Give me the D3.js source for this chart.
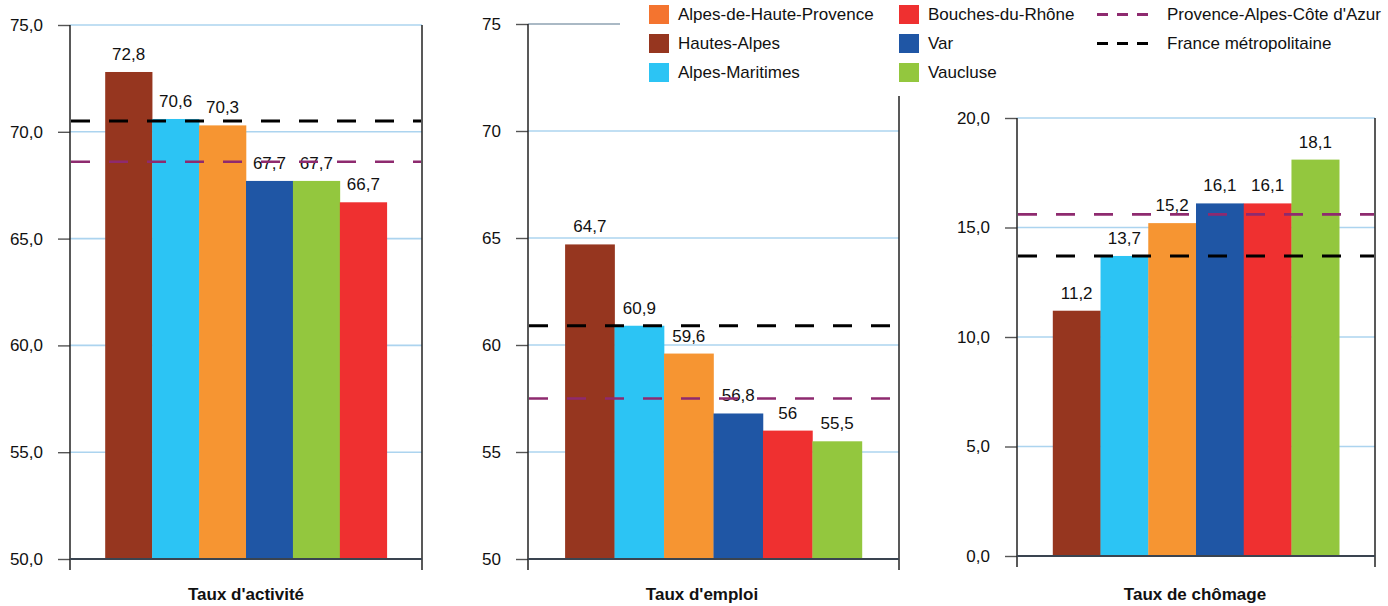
<!DOCTYPE html>
<html>
<head>
<meta charset="utf-8">
<script src="https://cdn.jsdelivr.net/npm/d3@7"></script>
<style>
  body { margin: 0; background: #fff; }
  svg { display: block; font-family: "Liberation Sans", Arial, sans-serif; }
</style>
</head>
<body>
<svg width="1388" height="606"></svg>
<script>
const departements = ['Alpes-de-Haute-Provence', 'Hautes-Alpes', 'Alpes-Maritimes', 'Bouches-du-Rhône', 'Var', 'Vaucluse'];

const tauxActivite = [70.3, 72.8, 70.6, 66.7, 67.7, 67.7];
const tauxEmploi = [59.6, 64.7, 60.9, 56, 56.8, 55.5];
const tauxChomage = [15.2, 11.2, 13.7, 16.1, 16.1, 18.1];

// order of the bars in each panel, as in the picture
const ordreActivite = ['Hautes-Alpes', 'Alpes-Maritimes', 'Alpes-de-Haute-Provence', 'Var', 'Vaucluse', 'Bouches-du-Rhône'];
const ordreEmploi = ['Hautes-Alpes', 'Alpes-Maritimes', 'Alpes-de-Haute-Provence', 'Var', 'Bouches-du-Rhône', 'Vaucluse'];
const ordreChomage = ['Hautes-Alpes', 'Alpes-Maritimes', 'Alpes-de-Haute-Provence', 'Var', 'Bouches-du-Rhône', 'Vaucluse'];

const references = ['Provence-Alpes-Côte d\'Azur', 'France métropolitaine'];
const refPaca = [68.6, 57.5, 15.6];
const refFrance = [70.5, 60.9, 13.7];

const titres = ['Taux d\'activité', 'Taux d\'emploi', 'Taux de chômage'];
const ticksActivite = [50, 55, 60, 65, 70, 75];
const ticksEmploi = [50, 55, 60, 65, 70, 75];
const ticksChomage = [0, 5, 10, 15, 20];

const couleurs = {
  'Alpes-de-Haute-Provence': '#f69532',
  'Hautes-Alpes': '#96361f',
  'Alpes-Maritimes': '#2cc4f4',
  'Bouches-du-Rhône': '#ef3030',
  'Var': '#1f56a5',
  'Vaucluse': '#93c73e',
};
const couleursLegende = Object.assign({}, couleurs, {'Alpes-de-Haute-Provence': '#f4742f'});
const couleursRef = ['#8e2a6f', '#000'];

const FONT = 17;
const svg = d3.select('svg');

const panels = [
  {values: tauxActivite, ordre: ordreActivite, ticks: ticksActivite, dec: 1,
    x0: 70, x1: 422, yTop: 25, yBot: 559, titleX: 246},
  {values: tauxEmploi, ordre: ordreEmploi, ticks: ticksEmploi, dec: 0,
    x0: 528, x1: 899, yTop: 24, yBot: 559, titleX: 702, topColor: '#8ea2b2'},
  {values: tauxChomage, ordre: ordreChomage, ticks: ticksChomage, dec: 1,
    x0: 1017, x1: 1375, yTop: 118, yBot: 556, titleX: 1195},
];

const virgule = (v) => String(v).replace('.', ',');

function drawPanel(p, i) {
  const g = svg.append('g');
  const lo = p.ticks[0], hi = p.ticks[p.ticks.length - 1];
  const y = d3.scaleLinear().domain([lo, hi]).range([p.yBot, p.yTop]);
  const x = d3.scaleBand().domain(p.ordre).range([p.x0, p.x1])
      .paddingInner(0).paddingOuter(0.75);
  const val = (d) => p.values[departements.indexOf(d)];

  // gridlines
  g.selectAll('line.grid')
      .data(p.ticks.slice(1))
    .enter().append('line')
      .attr('class', 'grid')
      .attr('x1', p.x0).attr('x2', p.x1)
      .attr('y1', (d) => y(d)).attr('y2', (d) => y(d))
      .attr('stroke', (d) => d === hi && p.topColor ? p.topColor : '#acd4ef')
      .attr('stroke-width', 1.6);

  // bars
  g.selectAll('rect.bar')
      .data(p.ordre)
    .enter().append('rect')
      .attr('class', 'bar')
      .attr('x', (d) => x(d))
      .attr('width', x.bandwidth() + 0.3)
      .attr('y', (d) => y(val(d)))
      .attr('height', (d) => y(lo) - y(val(d)))
      .attr('fill', (d) => couleurs[d]);

  // value labels
  g.selectAll('text.val')
      .data(p.ordre)
    .enter().append('text')
      .attr('class', 'val')
      .attr('x', (d) => x(d) + x.bandwidth() / 2)
      .attr('y', (d) => y(val(d)) - 12)
      .attr('text-anchor', 'middle')
      .attr('font-size', FONT)
      .attr('fill', '#111')
      .text((d) => virgule(val(d)));

  // y axis
  const axis = d3.axisLeft(y)
      .tickValues(p.ticks)
      .tickSize(12)
      .tickPadding(15)
      .tickFormat((d) => d.toFixed(p.dec).replace('.', ','));
  const ag = g.append('g').attr('transform', `translate(${p.x0},0)`).call(axis);
  ag.select('.domain').remove();
  ag.selectAll('line').attr('stroke', '#555').attr('stroke-width', 1.4);
  ag.selectAll('text')
      .attr('font-size', FONT)
      .attr('font-family', '"Liberation Sans", Arial, sans-serif')
      .attr('fill', '#111');

  // frame: left axis, right side, baseline
  g.append('line')
      .attr('x1', p.x0).attr('x2', p.x0)
      .attr('y1', p.yTop).attr('y2', p.yBot + 11)
      .attr('stroke', '#222').attr('stroke-width', 1.5);
  g.append('line')
      .attr('x1', p.x1).attr('x2', p.x1)
      .attr('y1', p.yTop).attr('y2', p.yBot + 11)
      .attr('stroke', '#222').attr('stroke-width', 1.5);
  g.append('line')
      .attr('x1', p.x0).attr('x2', p.x1)
      .attr('y1', y(lo)).attr('y2', y(lo))
      .attr('stroke', '#3a4450').attr('stroke-width', 2);

  // reference lines, drawn above the bars
  [refPaca[i], refFrance[i]].forEach((v, k) => {
    g.append('line')
        .attr('x1', p.x0 + 1).attr('x2', p.x1 - 1)
        .attr('y1', y(v)).attr('y2', y(v))
        .attr('stroke', couleursRef[k])
        .attr('stroke-width', k === 0 ? 2.6 : 3)
        .attr('stroke-dasharray', '19,19');
  });

  g.append('text')
      .attr('x', p.titleX)
      .attr('y', 600)
      .attr('text-anchor', 'middle')
      .attr('font-size', 17)
      .attr('font-weight', 'bold')
      .attr('fill', '#111')
      .text(titres[i]);
}

panels.forEach(drawPanel);

// legend, on a white box over the top of the middle panel
const leg = svg.append('g');
leg.append('rect')
    .attr('x', 620).attr('y', 0)
    .attr('width', 768).attr('height', 96)
    .attr('fill', '#fff');

const colX = [649, 899];
departements.forEach((d, i) => {
  const cx = colX[Math.floor(i / 3)];
  const cy = 14.5 + (i % 3) * 29;
  leg.append('rect')
      .attr('x', cx).attr('y', cy - 9.5)
      .attr('width', 20).attr('height', 19)
      .attr('fill', couleursLegende[d]);
  leg.append('text')
      .attr('x', cx + 29).attr('y', cy)
      .attr('dy', '0.35em')
      .attr('font-size', FONT)
      .attr('fill', '#111')
      .text(d);
});
references.forEach((r, k) => {
  const cy = 14.5 + k * 29;
  leg.append('line')
      .attr('x1', 1097).attr('x2', 1156)
      .attr('y1', cy).attr('y2', cy)
      .attr('stroke', couleursRef[k])
      .attr('stroke-width', 3)
      .attr('stroke-dasharray', '11,9');
  leg.append('text')
      .attr('x', 1167).attr('y', cy)
      .attr('dy', '0.35em')
      .attr('font-size', FONT)
      .attr('fill', '#111')
      .text(r);
});
</script>
</body>
</html>
